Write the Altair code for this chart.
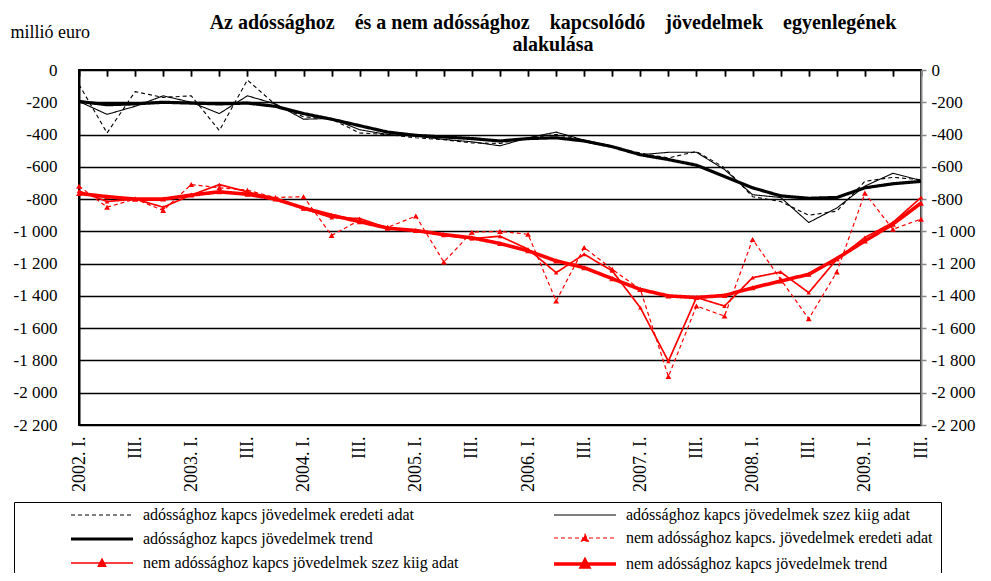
import json
import altair as alt
import pandas as pd

FONT = "Liberation Serif"

# quarter tick labels (2002 Q1 .. 2009 Q3)
xlabels = ["2002. I.", "II.", "III.", "IV.", "2003. I.", "II.", "III.", "IV.",
           "2004. I.", "II.", "III.", "IV.", "2005. I.", "II.", "III.", "IV.",
           "2006. I.", "II.", "III.", "IV.", "2007. I.", "II.", "III.", "IV.",
           "2008. I.", "II.", "III.", "IV.", "2009. I.", "II.", "III."]

names = ["adóssághoz kapcs jövedelmek eredeti adat",
         "adóssághoz kapcs jövedelmek  szez kiig adat",
         "adóssághoz kapcs jövedelmek  trend",
         "nem adóssághoz kapcs. jövedelmek  eredeti adat",
         "nem adóssághoz kapcs jövedelmek szez kiig adat",
         "nem adóssághoz kapcs jövedelmek  trend"]

ado_eredeti = [-90, -390, -134, -170, -160, -375, -62, -215, -290, -305, -390, -400,
               -420, -432, -452, -455, -420, -400, -435, -475, -515, -545, -505, -605,
               -785, -815, -900, -875, -690, -665, -680]
ado_szez = [-195, -275, -225, -160, -200, -270, -160, -210, -305, -300, -370, -400,
            -410, -430, -445, -470, -420, -385, -435, -475, -525, -510, -510, -617,
            -773, -790, -945, -855, -720, -640, -685]
ado_trend = [-195, -215, -210, -200, -205, -210, -205, -225, -270, -305, -345, -385,
             -405, -415, -425, -440, -425, -420, -440, -475, -525, -555, -590, -660,
             -730, -780, -795, -790, -730, -705, -690]
nem_eredeti = [-720, -850, -800, -870, -710, -730, -745, -790, -785, -1025, -930, -975,
               -905, -1190, -1005, -1000, -1018, -1432, -1100, -1235, -1360, -1900, -1463, -1525,
               -1050, -1297, -1542, -1252, -763, -987, -924]
nem_szez = [-750, -815, -800, -850, -775, -710, -755, -795, -860, -915, -920, -980,
            -995, -1025, -1045, -1030, -1110, -1256, -1142, -1245, -1473, -1805, -1410, -1463,
            -1287, -1252, -1380, -1173, -1038, -945, -790]
nem_trend = [-765, -785, -800, -800, -775, -755, -770, -800, -855, -900, -940, -980,
             -995, -1020, -1040, -1075, -1120, -1183, -1225, -1293, -1360, -1400, -1410, -1397,
             -1350, -1308, -1266, -1169, -1059, -955, -825]

series_values = [ado_eredeti, ado_szez, ado_trend, nem_eredeti, nem_szez, nem_trend]

colors = ["#000000", "#000000", "#000000", "#ff0000", "#ff0000", "#ff0000"]
dashes = [[4, 3], [1, 0], [1, 0], [4, 3], [1, 0], [1, 0]]
widths = [1.1, 1.1, 3.2, 1.2, 1.7, 3.6]
# legend key glyphs (unit box of the 16px symbol, stretched to a 62px line sample)
LINE = "M-1,0H6.75"
TRI = "M-1,0H6.75M2.44,0.38L2.875,-0.45L3.31,0.38Z"
legend_shapes = [LINE, LINE, LINE, TRI, TRI, TRI]
legend_fills = ["transparent", "transparent", "transparent", "#ff0000", "#ff0000", "#ff0000"]

rows = []
for name, vals in zip(names, series_values):
    for i, v in enumerate(vals):
        rows.append({"series": name, "q": i, "value": v})
df = pd.DataFrame(rows)

PLOT_H = 355
xscale = alt.Scale(domain=[0, 30], nice=False, zero=False)
yscale = alt.Scale(domain=[-2200, 0], nice=False, zero=False)
yvals = list(range(-2200, 1, 200))
ylabel_expr = "(datum.value < 0 ? '-' : '') + replace(format(abs(datum.value), ','), ',', ' ')"


def lookup(values):
    return json.dumps(dict(zip(names, values)), ensure_ascii=False) + "[datum.value]"


x_bottom = alt.X("q:Q", scale=xscale, axis=alt.Axis(
    orient="bottom", values=list(range(0, 31, 2)),
    labelExpr=json.dumps(xlabels) + "[datum.value]",
    labelAngle=270, labelAlign="right", labelBaseline="middle",
    labelPadding=11, ticks=False, domain=False, grid=False, title=None,
    labelFont=FONT, labelFontSize=18, labelColor="black"))

y_left = alt.Y("value:Q", scale=yscale, axis=alt.Axis(
    orient="left", values=yvals, labelExpr=ylabel_expr,
    grid=True, gridColor="black", gridWidth=1.3, ticks=False,
    domain=True, domainColor="black", domainWidth=2,
    labelPadding=22, labelFont=FONT, labelFontSize=17, labelColor="black",
    title="millió euro", titleAngle=0, titleX=-69, titleY=-38,
    titleAlign="left", titleBaseline="middle", titleFont=FONT,
    titleFontSize=18, titleFontWeight="normal", titleColor="black"))

x_top = alt.X("q:Q", scale=xscale, axis=alt.Axis(
    orient="top", values=list(range(0, 31)), labels=False,
    ticks=True, tickSize=6, tickColor="black", tickWidth=1.5,
    domain=False, grid=False, offset=-6, title=None))

# category ticks hanging down from the top edge (where the axis crosses at 0)
x_ticks = alt.X("q:Q", scale=xscale, axis=alt.Axis(
    orient="bottom", values=list(range(0, 31)), labels=False,
    ticks=True, tickSize=6, tickColor="black", tickWidth=1.5,
    domain=False, grid=False, offset=-PLOT_H, title=None))

y_right = alt.Y("value:Q", scale=yscale, axis=alt.Axis(
    orient="right", values=yvals, labelExpr=ylabel_expr,
    grid=False, ticks=True, tickSize=5, tickColor="#888888", tickWidth=1.5,
    domain=True, domainColor="#888888", domainWidth=2,
    labelPadding=5, labelFont=FONT, labelFontSize=17, labelColor="black",
    title=None))

pad = "\u00a0" * 25
col2 = [names[1], names[3], names[5]]
legend_props = dict(
    title="x", titleOrient="left", titleColor="transparent",
    titlePadding=42, titleFontSize=16,
    labelExpr="datum.label + (indexof(" + json.dumps(col2, ensure_ascii=False)
              + ", datum.label) >= 0 ? '" + pad + "' : '')",
    symbolType={"expr": lookup(legend_shapes)},
    symbolFillColor={"expr": lookup(legend_fills)},
)

lines = alt.Chart(df).mark_line(strokeJoin="round").encode(
    x=x_bottom,
    y=y_left,
    color=alt.Color("series:N", scale=alt.Scale(domain=names, range=colors),
                    legend=alt.Legend(**legend_props)),
    strokeDash=alt.StrokeDash("series:N", scale=alt.Scale(domain=names, range=dashes),
                              legend=alt.Legend(**legend_props)),
    strokeWidth=alt.StrokeWidth("series:N", scale=alt.Scale(type="ordinal", domain=names, range=widths),
                                legend=alt.Legend(**legend_props)),
)

pts_big = alt.Chart(df).transform_filter(
    alt.FieldOneOfPredicate(field="series", oneOf=[names[3], names[5]])
).mark_point(shape="triangle-up", filled=True, opacity=1, fill="#ff0000", size=34).encode(
    x=x_top,
    y=y_right,
)

pts_small = alt.Chart(df).transform_filter(
    alt.FieldEqualPredicate(field="series", equal=names[4])
).mark_point(shape="triangle-up", filled=True, opacity=1, fill="#ff0000", size=20).encode(
    x=x_ticks,
    y=alt.Y("value:Q", scale=yscale, axis=None),
)

sp = "\u00a0\u00a0\u00a0 "
title_l1 = ("Az adóssághoz" + sp + "és a nem adóssághoz" + sp + "kapcsolódó" + sp
            + "jövedelmek" + sp + "egyenlegének")

chart = alt.layer(lines, pts_big, pts_small).resolve_axis(
    x="independent", y="independent"
).properties(
    width=842, height=PLOT_H,
    autosize=alt.AutoSizeParams(type="none"),
    padding={"left": 71, "top": 62, "right": 62, "bottom": 148},
    title=alt.TitleParams(
        text=[title_l1, "alakulása"],
        font=FONT, fontSize=20, fontWeight="bold", color="black",
        anchor="middle", frame="group", dx=53, dy=49, offset=17, lineHeight=22),
).configure_view(
    stroke="black", strokeWidth=2
).configure_legend(
    orient="none", legendX=-65, legendY=432, columns=2, direction="horizontal",
    symbolSize=256,
    labelFont=FONT, labelFontSize=16, labelColor="black", labelLimit=900,
    labelOffset=54, columnPadding=87, rowPadding=6,
    strokeColor="black", padding=4,
)

chart.save("out.html", embed_options={"renderer": "svg", "actions": False})
